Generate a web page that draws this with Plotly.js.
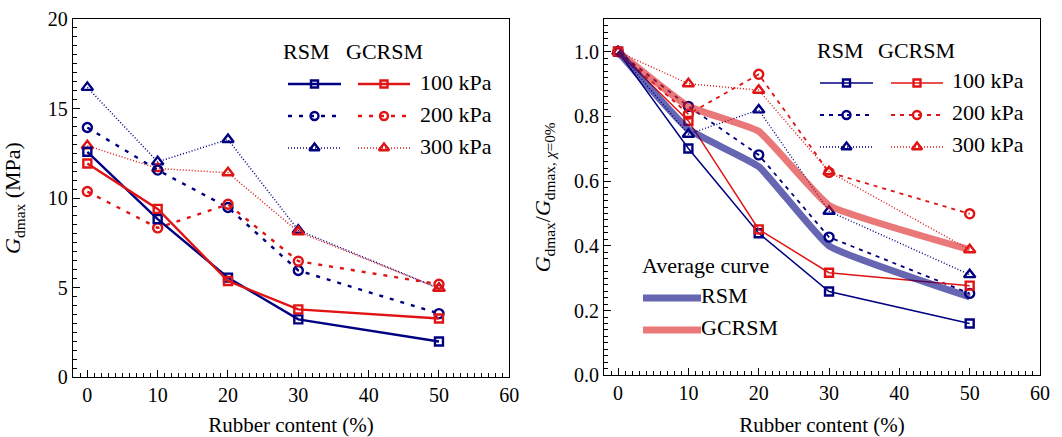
<!DOCTYPE html>
<html><head><meta charset="utf-8">
<script src="https://cdn.plot.ly/plotly-3.0.1.min.js"></script>
<style>html,body{margin:0;padding:0;background:#fff}#c{width:1062px;height:437px}</style>
</head><body><div id="c"></div>
<script>
// ---- data ----
const rubber = [0, 10, 20, 30, 50];
const pressures = ['100 kPa', '200 kPa', '300 kPa'];
// left: Gdmax (MPa)
const rsm100 = [12.58, 8.82, 5.55, 3.22, 1.98];
const rsm200 = [13.94, 11.56, 9.47, 5.95, 3.54];
const rsm300 = [16.18, 12.02, 13.27, 8.20, 4.95];
const gc100 = [11.93, 9.39, 5.36, 3.78, 3.27];
const gc200 = [10.36, 8.33, 9.65, 6.47, 5.18];
const gc300 = [12.92, 11.65, 11.41, 8.11, 4.95];
// right: normalised Gdmax
const nrsm100 = [1.0, 0.701, 0.439, 0.259, 0.160];
const nrsm200 = [1.0, 0.831, 0.681, 0.427, 0.253];
const nrsm300 = [1.0, 0.745, 0.820, 0.507, 0.311];
const ngc100 = [1.0, 0.786, 0.451, 0.317, 0.277];
const ngc200 = [1.0, 0.807, 0.930, 0.627, 0.499];
const ngc300 = [1.0, 0.901, 0.881, 0.629, 0.388];
const avgRsm = [1.0, 0.760, 0.645, 0.400, 0.242];
const avgGc = [1.0, 0.831, 0.754, 0.525, 0.388];
const xTicks = [0, 10, 20, 30, 40, 50, 60];

// ---- geometry / styles ----
const W = 1062, H = 437;
const BLUE = '#000080', RED = '#e01414';
const AVG_B = 'rgba(0,0,128,0.6)', AVG_R = 'rgba(220,30,30,0.6)';
const FONT = 'Liberation Serif';
const G1 = {l: 72.7, r: 509.3, t: 19, b: 377, xr: [-2.08, 60], yr: [0, 20]};
const G2 = {l: 604, r: 1040, t: 19.3, b: 375.3, xr: [-2, 60], yr: [0, 1.1]};
const stylesL = [
  {dash: 'solid', w: 2.4, sym: 'square-open', ms: 8},
  {dash: '4px,7px', w: 2.4, sym: 'circle-open', ms: 9},
  {dash: '1px,2px', w: 1.5, sym: 'triangle-up-open', ms: 10}
];
const stylesR = [
  {dash: 'solid', w: 1.5, sym: 'square-open', ms: 8},
  {dash: '4px,5px', w: 1.8, sym: 'circle-open', ms: 9},
  {dash: '1px,2px', w: 1.4, sym: 'triangle-up-open', ms: 10}
];
// pixel -> data of a panel (for legend placement only)
const pxX = (g, px) => g.xr[0] + (px - g.l) * (g.xr[1] - g.xr[0]) / (g.r - g.l);
const pxY = (g, py) => g.yr[0] + (g.b - py) * (g.yr[1] - g.yr[0]) / (g.b - g.t);

const traces = [];
function series(y, color, st, xa, ya) {
  traces.push({x: rubber, y: y, xaxis: xa, yaxis: ya, type: 'scatter', mode: 'lines+markers',
    line: {color: color, width: st.w, dash: st.dash},
    marker: {symbol: st.sym, size: st.ms, color: color, line: {color: color, width: 2.4}},
    showlegend: false});
}
const leftRsm = [rsm100, rsm200, rsm300], leftGc = [gc100, gc200, gc300];
const rightRsm = [nrsm100, nrsm200, nrsm300], rightGc = [ngc100, ngc200, ngc300];
for (let i = 2; i >= 0; i--) { series(leftRsm[i], BLUE, stylesL[i], 'x', 'y'); series(leftGc[i], RED, stylesL[i], 'x', 'y'); }
for (let i = 2; i >= 0; i--) { series(rightRsm[i], BLUE, stylesR[i], 'x2', 'y2'); series(rightGc[i], RED, stylesR[i], 'x2', 'y2'); }
// average curves
traces.push({x: rubber, y: avgGc, xaxis: 'x2', yaxis: 'y2', mode: 'lines', line: {color: AVG_R, width: 7, shape: 'spline', smoothing: 0.35}, showlegend: false});
traces.push({x: rubber, y: avgRsm, xaxis: 'x2', yaxis: 'y2', mode: 'lines', line: {color: AVG_B, width: 7, shape: 'spline', smoothing: 0.35}, showlegend: false});

// ---- custom legends (text drawn as scatter text) ----
function txt(g, xa, ya, t, x, y) {
  traces.push({x: [pxX(g, x)], y: [pxY(g, y)], xaxis: xa, yaxis: ya, mode: 'text', text: [t], textposition: 'middle right',
    textfont: {family: FONT, size: 22, color: '#000'}, showlegend: false, hoverinfo: 'skip'});
}
function sample(g, xa, ya, a, b, yy, color, width, dash) {
  traces.push({x: [pxX(g, a), pxX(g, b)], y: [pxY(g, yy), pxY(g, yy)], xaxis: xa, yaxis: ya, mode: 'lines', line: {color: color, width: width, dash: dash}, showlegend: false, hoverinfo: 'skip'});
}
function legendBlock(g, xa, ya, styles, hx1, hx2, bx0, bx1, rx0, rx1, tx, rows, hy) {
  txt(g, xa, ya, 'RSM', hx1, hy); txt(g, xa, ya, 'GCRSM', hx2, hy);
  styles.forEach((st, i) => {
    const yy = rows[i];
    [[bx0, bx1, BLUE], [rx0, rx1, RED]].forEach(([a, b, c]) => {
      sample(g, xa, ya, a, b, yy, c, st.w, st.dash);
      traces.push({x: [pxX(g, (a + b) / 2)], y: [pxY(g, yy)], xaxis: xa, yaxis: ya, mode: 'markers', marker: {symbol: st.sym, size: st.ms - 1, color: c, line: {color: c, width: 2.4}}, showlegend: false, hoverinfo: 'skip'});
    });
    txt(g, xa, ya, pressures[i], tx, yy);
  });
}
legendBlock(G1, 'x', 'y', stylesL, 283, 346, 288, 341, 358, 410, 420, [84, 116, 148], 53);
legendBlock(G2, 'x2', 'y2', stylesR, 817, 878, 820, 873, 891, 943, 952, [83, 115, 147], 53);
txt(G2, 'x2', 'y2', 'Average curve', 642, 268);
sample(G2, 'x2', 'y2', 643, 701, 298, AVG_B, 7, 'solid');
sample(G2, 'x2', 'y2', 643, 701, 330, AVG_R, 7, 'solid');
txt(G2, 'x2', 'y2', 'RSM', 701, 298); txt(G2, 'x2', 'y2', 'GCRSM', 701, 330);

// ---- axes ----
function xax(g, anchor) {
  return {domain: [g.l / W, g.r / W], range: g.xr, anchor: anchor, tickvals: xTicks, ticks: 'inside', ticklen: 7, tickcolor: '#000',
    minor: {dtick: 1, ticks: 'inside', ticklen: 4, tickcolor: '#000'},
    showline: true, linecolor: '#000', mirror: true, gridcolor: 'rgba(0,0,0,0)', zeroline: false,
    tickfont: {family: FONT, size: 20, color: '#000'},
    title: {text: 'Rubber content (%)', font: {family: FONT, size: 21, color: '#000'}}};
}
function yax(g, anchor, dtick, minor, fmt, title) {
  return {domain: [1 - g.b / H, 1 - g.t / H], range: g.yr, anchor: anchor, dtick: dtick, tickformat: fmt, ticks: 'inside', ticklen: 7, tickcolor: '#000',
    minor: {dtick: minor, ticks: 'inside', ticklen: 4, tickcolor: '#000'},
    showline: true, linecolor: '#000', mirror: true, gridcolor: 'rgba(0,0,0,0)', zeroline: false,
    tickfont: {family: FONT, size: 20, color: '#000'},
    title: {text: title, font: {family: FONT, size: 22, color: '#000'}}};
}

const layout = {
  width: W, height: H, margin: {l: 0, r: 0, t: 0, b: 0},
  showlegend: false, font: {family: 'Times New Roman'},
  xaxis: xax(G1, 'y'), xaxis2: xax(G2, 'y2'),
  yaxis: yax(G1, 'x', 5, 0.5, 'd', '<i>G</i><sub>dmax</sub> (MPa)'),
  yaxis2: yax(G2, 'x2', 0.2, 0.02, '.1f', '<i>G</i><sub>dmax</sub>/<i>G</i><sub>dmax, <i>χ</i>=0%</sub>')
};
Plotly.newPlot('c', traces, layout, {staticPlot: true});
</script></body></html>
